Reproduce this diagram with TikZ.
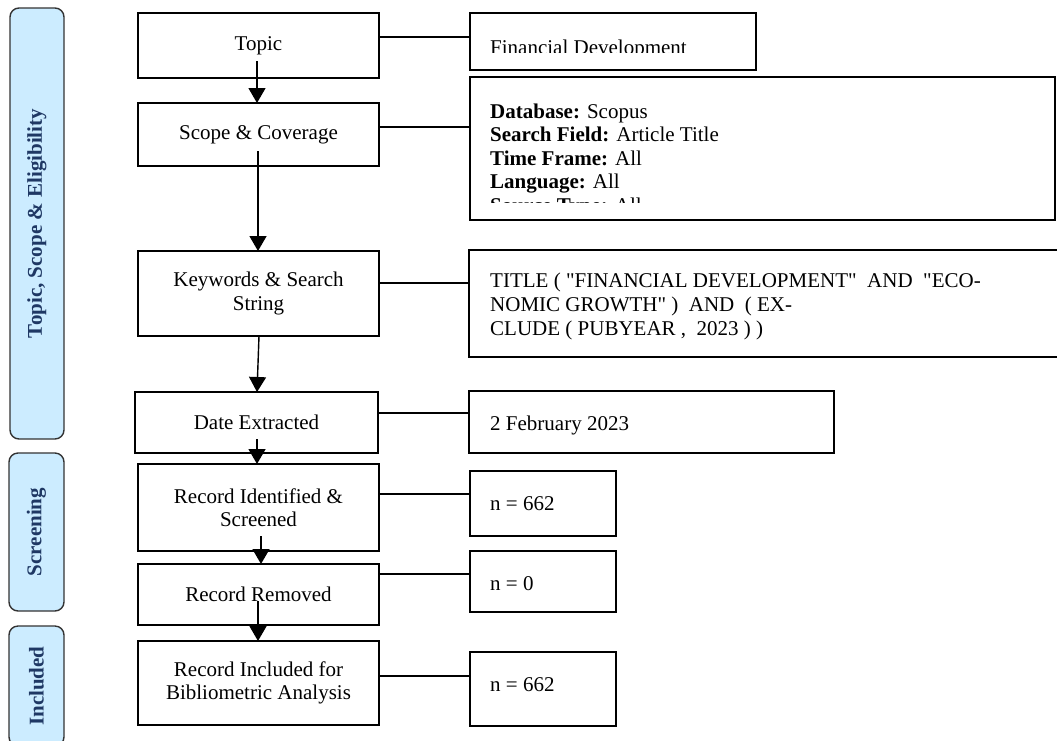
\documentclass[tikz,border=0pt]{standalone}
\usepackage{fontspec}
\setmainfont{Liberation Serif}
\usetikzlibrary{arrows.meta}
\definecolor{bandfill}{RGB}{204,236,255}
\definecolor{bandtext}{RGB}{31,56,100}
\newcommand{\myfs}{\fontsize{21}{23.5}\selectfont}
\newcommand{\q}{\textquotedbl}
\tikzset{
  box/.style={draw=black, line width=1.4pt, fill=white, inner sep=0pt, align=center, font=\myfs},
  band/.style={draw=black!80, line width=1.4pt, fill=bandfill, rounded corners=9pt, rotate=90, inner sep=0pt, font=\myfs\bfseries, text=bandtext},
  link/.style={line width=1.5pt},
  flow/.style={line width=1.4pt, -{Triangle[width=17pt,length=15pt]}},
  lbl/.style={anchor=base west, inner sep=0pt, font=\myfs},
}
\begin{document}
\begin{tikzpicture}[x=1pt,y=-1pt]
\useasboundingbox (0,0) rectangle (1057,740);
\clip (0,0) rectangle (1057,740);

% side bands
\node[band, minimum width=431pt, minimum height=54pt] (b1) at (37,223.5) {Topic, Scope \& Eligibility};
\node[band, minimum width=158pt, minimum height=55pt] (b2) at (36.5,532) {Screening};
\node[band, minimum width=120pt, minimum height=55pt] (b3) at (36.5,686) {Included};

% left column
\node[box, minimum width=241pt, minimum height=65pt] (topic) at (258.5,45.5) {Topic};
\node[box, minimum width=241pt, minimum height=63pt] (scope) at (258.5,134.5) {Scope \& Coverage};
\node[box, minimum width=241pt, minimum height=85pt] (kw) at (258.5,293.5) {Keywords \& Search\\String};
\node[box, minimum width=243pt, minimum height=61pt] (date) at (256.5,422.5) {Date Extracted};
\node[box, minimum width=241pt, minimum height=87pt] (ident) at (258.5,507.5) {Record Identified \&\\Screened};
\node[box, minimum width=241pt, minimum height=61pt] (removed) at (258.5,594.5) {Record Removed};
\node[box, minimum width=241pt, minimum height=84pt] (incl) at (258.5,683) {Record Included for\\Bibliometric Analysis};

% right column
\node[box, minimum width=286pt, minimum height=57pt] (fin) at (613,41.5) {};
\begin{scope}
\clip (471,14) rectangle (755,52);
\node[lbl] (finT) at (490,54) {Financial Development};
\end{scope}

\node[box, minimum width=585pt, minimum height=143pt] (info) at (762.5,148.5) {};
\node[lbl] (i1) at (490,118) {\textbf{Database:} Scopus};
\node[lbl] (i2) at (490,141.5) {\textbf{Search Field:} Article Title};
\node[lbl] (i3) at (490,165) {\textbf{Time Frame:} All};
\node[lbl] (i4) at (490,188.5) {\textbf{Language:} All};
\begin{scope}
\clip (471,196) rectangle (1054,202.5);
\node[lbl] (i5) at (490,212) {\textbf{Source Type:} All};
\end{scope}

\node[box, minimum width=601pt, minimum height=107pt] (kwR) at (769.5,303.5) {};
\node[lbl] (k1) at (490,287) {TITLE ( \q FINANCIAL DEVELOPMENT\q\ \ AND \ \q ECO-};
\node[lbl] (k2) at (490,311) {NOMIC GROWTH\q\ ) \ AND \ ( EX-};
\node[lbl] (k3) at (490,335) {CLUDE ( PUBYEAR , \ 2023 ) )};

\node[box, minimum width=365pt, minimum height=62pt] (dateR) at (651.5,422) {};
\node[lbl] (dT) at (490,430) {2 February 2023};

\node[box, minimum width=146pt, minimum height=65pt] (n1) at (543,503.5) {};
\node[lbl] (n1T) at (490,510) {n = 662};
\node[box, minimum width=146pt, minimum height=61pt] (n0) at (543,581.5) {};
\node[lbl] (n0T) at (490,590) {n = 0};
\node[box, minimum width=146pt, minimum height=74pt] (n2) at (543,689) {};
\node[lbl] (n2T) at (490,691) {n = 662};

% horizontal links
\coordinate (y1) at (0,37);
\coordinate (y2) at (0,127);
\coordinate (y3) at (0,283);
\coordinate (y4) at (0,413);
\coordinate (y5) at (0,494);
\coordinate (y6) at (0,574);
\coordinate (y7) at (0,676);
\draw[link] (topic.east |- y1) -- (fin.west |- y1);
\draw[link] (scope.east |- y2) -- (info.west |- y2);
\draw[link] (kw.east |- y3) -- (kwR.west |- y3);
\draw[link] (date.east |- y4) -- (dateR.west |- y4);
\draw[link] (ident.east |- y5) -- (n1.west |- y5);
\draw[link] (removed.east |- y6) -- (n0.west |- y6);
\draw[link] (incl.east |- y7) -- (n2.west |- y7);

% flow arrows
\coordinate (s1) at (257,61);
\coordinate (e1) at (257,103);
\coordinate (s2) at (258,151);
\coordinate (e2) at (258,251);
\coordinate (s3) at (259,336);
\coordinate (e3) at (257,392);
\coordinate (s4) at (257,439);
\coordinate (e4) at (257,464);
\coordinate (s5) at (261,536);
\coordinate (e5) at (261,564);
\coordinate (s6) at (258,601);
\coordinate (e6) at (258,641);
\draw[flow] (s1) -- (e1);
\draw[flow] (s2) -- (e2);
\draw[flow] (s3) -- (e3);
\draw[flow] (s4) -- (e4);
\draw[flow] (s5) -- (e5);
\draw[flow] (s6) -- (e6);
\end{tikzpicture}
\end{document}
